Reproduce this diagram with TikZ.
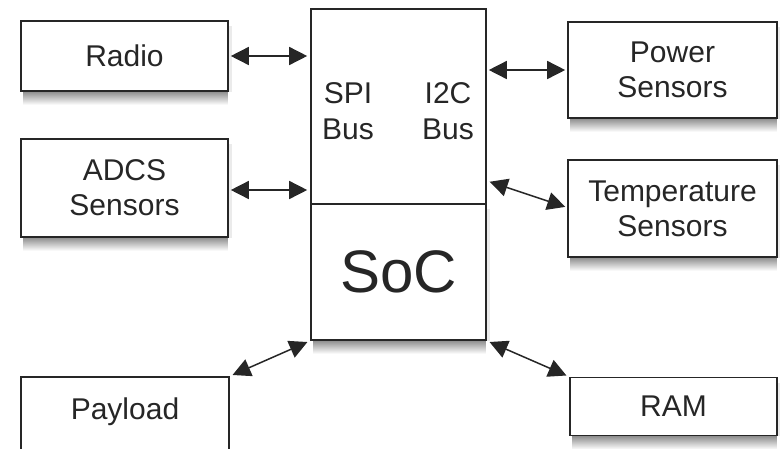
\documentclass[tikz,border=0pt]{standalone}
\usepackage{fontspec}
\setmainfont{Liberation Sans}
\usetikzlibrary{arrows.meta,fadings,backgrounds}
\tikzfading[name=shadowfade, top color=transparent!0, bottom color=transparent!100]
\begin{document}
\begin{tikzpicture}[x=1pt,y=-1pt,
  blk/.style={draw=black!85,line width=1.6pt,fill=white,rectangle,inner sep=0pt,
    align=center,font=\fontsize{30}{35}\selectfont,text=black!85},
  shade/.style={fill=black,opacity=0.5,path fading=shadowfade},
  tip/.tip={Triangle[length=18pt,width=18pt]},
  link/.style={line width=1.5pt,draw=black!85,tip-tip}
]
\useasboundingbox (0,0) rectangle (780,448);
\clip (0,0) rectangle (780,448);

\node[blk,minimum width=207pt,minimum height=70pt] (radio) at (124.5,56) {Radio};
\node[blk,minimum width=207pt,minimum height=98pt] (adcs) at (124.5,188) {ADCS\\Sensors};
\node[blk,minimum width=209pt,minimum height=96pt] (power) at (672.5,70) {Power\\Sensors};
\node[blk,minimum width=209pt,minimum height=97pt] (temp) at (672.5,208.5) {Temperature\\Sensors};
\node[blk,minimum width=208pt,minimum height=80pt] (payload) at (125,417) {};
\node[font=\fontsize{30}{35}\selectfont,text=black!85] (payloadtxt) at (125,412) {Payload};
\node[blk,minimum width=207pt,minimum height=58pt] (ram) at (673.5,406.5) {RAM};

\node[blk,minimum width=175pt,minimum height=136pt,font=\fontsize{60}{70}\selectfont] (soc) at (398.5,272) {SoC};
\node[blk,minimum width=175pt,minimum height=195pt] (bus) at (398.5,106.5) {};
\node[font=\fontsize{30}{36}\selectfont,text=black!85,align=center] (spi) at (348,111) {SPI\\Bus};
\node[font=\fontsize{30}{36}\selectfont,text=black!85,align=center] (iic) at (448,111) {I2C\\Bus};

\begin{scope}[on background layer]
  \foreach \n in {radio,adcs,power,temp,ram,soc}{
    \fill[shade] ([xshift=3pt,yshift=2pt]\n.south west) rectangle ([xshift=-1pt,yshift=-13pt]\n.south east);
    \fill[black,opacity=0.08] ([xshift=-1pt]\n.south east) rectangle ([xshift=3pt,yshift=-6pt]\n.north east);
  }
\end{scope}

\draw[link,shorten <=2pt,shorten >=3pt] (radio.east) -- (radio.east -| bus.west);
\draw[link,shorten <=2pt,shorten >=3pt] ([yshift=-2pt]adcs.east) -- ([yshift=-2pt]adcs.east -| bus.west);
\draw[link,shorten <=2pt,shorten >=2pt] (power.west -| bus.east) -- (power.west);
\coordinate (tempend) at ([yshift=24pt]bus.south east);
\draw[link,shorten <=3pt,shorten >=2pt] (tempend) -- ([yshift=1pt]temp.west);
\draw[link,shorten <=3pt,shorten >=3pt] (payload.north east) -- (soc.south west);
\draw[link,shorten <=3pt,shorten >=3pt] (soc.south east) -- (ram.north west);
\end{tikzpicture}
\end{document}
